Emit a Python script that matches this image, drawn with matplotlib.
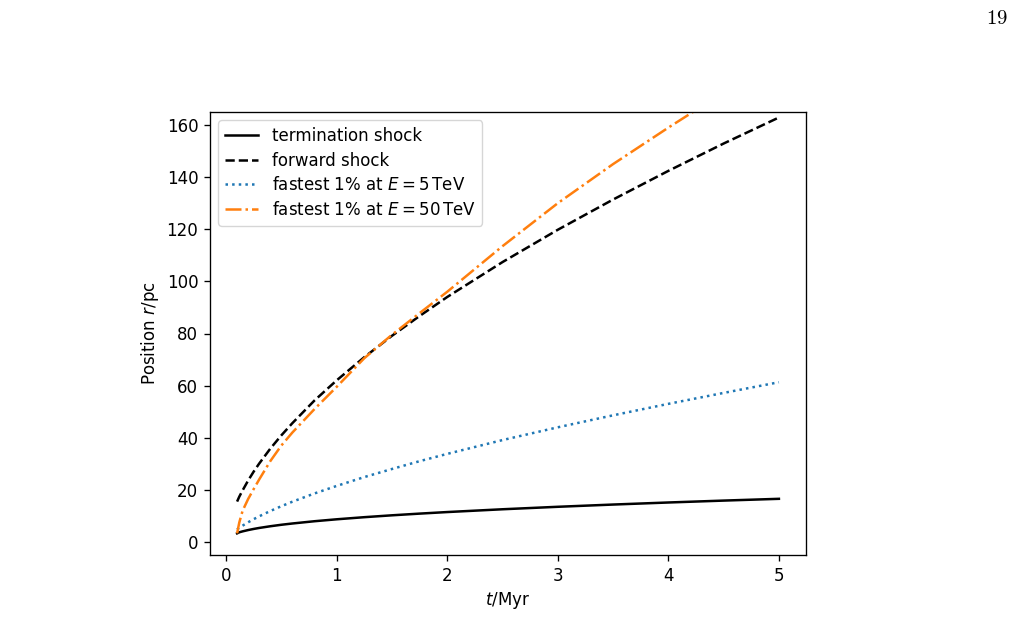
import matplotlib
matplotlib.use("Agg")
import matplotlib.pyplot as plt

# --- data ---
t_myr = [0.1, 0.12, 0.15, 0.2, 0.25, 0.3, 0.4, 0.5, 0.6, 0.8, 1.0, 1.25,
         1.5, 1.75, 2.0, 2.5, 3.0, 3.5, 4.0, 4.5, 5.0]
termination_shock = [3.3, 3.72, 4.07, 4.57, 5.0, 5.38, 6.03, 6.6, 7.09, 7.96,
                     8.7, 9.51, 10.23, 10.88, 11.48, 12.55, 13.5, 14.36,
                     15.15, 15.88, 16.56]
forward_shock = [15.5, 17.4, 19.8, 23.6, 27.0, 30.1, 35.8, 40.9, 45.6, 54.3,
                 62.0, 70.9, 79.1, 86.7, 94.0, 107.4, 119.8, 131.4, 142.4,
                 152.9, 162.9]
fastest_5tev = [4.8, 5.45, 6.27, 7.56, 8.75, 9.85, 11.87, 13.72, 15.45, 18.62,
                21.5, 24.9, 28.0, 31.0, 33.8, 39.1, 44.0, 48.6, 53.0, 57.2,
                61.3]
fastest_50tev = [3.3, 7.5, 12.0, 16.5, 20.3, 24.0, 31.0, 37.0, 42.0, 51.0,
                 59.5, 70.5, 79.5, 87.8, 96.0, 113.5, 130.0, 145.0, 159.0,
                 172.5, 185.5]

labels = ["termination shock", "forward shock",
          r"fastest 1% at $E = 5\,\mathrm{TeV}$",
          r"fastest 1% at $E = 50\,\mathrm{TeV}$"]

plt.rcParams.update({
    "font.size": 12,
    "lines.linewidth": 1.8,
    "axes.linewidth": 0.96,
    "xtick.major.width": 0.96,
    "ytick.major.width": 0.96,
    "xtick.major.size": 4.2,
    "ytick.major.size": 4.2,
    "xtick.major.pad": 4.2,
    "ytick.major.pad": 4.2,
})

fig = plt.figure(figsize=(10.15, 6.4), dpi=100)
ax = fig.add_axes([210 / 1015, 1 - 555 / 640, 596 / 1015, 443 / 640])

ax.plot(t_myr, termination_shock, color="black", linestyle="-", label=labels[0])
ax.plot(t_myr, forward_shock, color="black", linestyle="--", label=labels[1])
ax.plot(t_myr, fastest_5tev, color="#1f77b4", linestyle=":", label=labels[2])
ax.plot(t_myr, fastest_50tev, color="#ff7f0e", linestyle="-.", label=labels[3])

ax.set_ylim(-5, 165)
ax.set_xticks([0, 1, 2, 3, 4, 5])
ax.set_yticks([0, 20, 40, 60, 80, 100, 120, 140, 160])
ax.set_xlabel(r"$t$/Myr")
ax.set_ylabel(r"Position $r$/pc")
ax.legend(loc="upper left", labelspacing=0.4)

fig.text(0.982, 0.972, r"$\mathrm{19}$", ha="center", va="center",
         fontsize=15, math_fontfamily="cm")

fig.savefig("out.png", dpi=100)
